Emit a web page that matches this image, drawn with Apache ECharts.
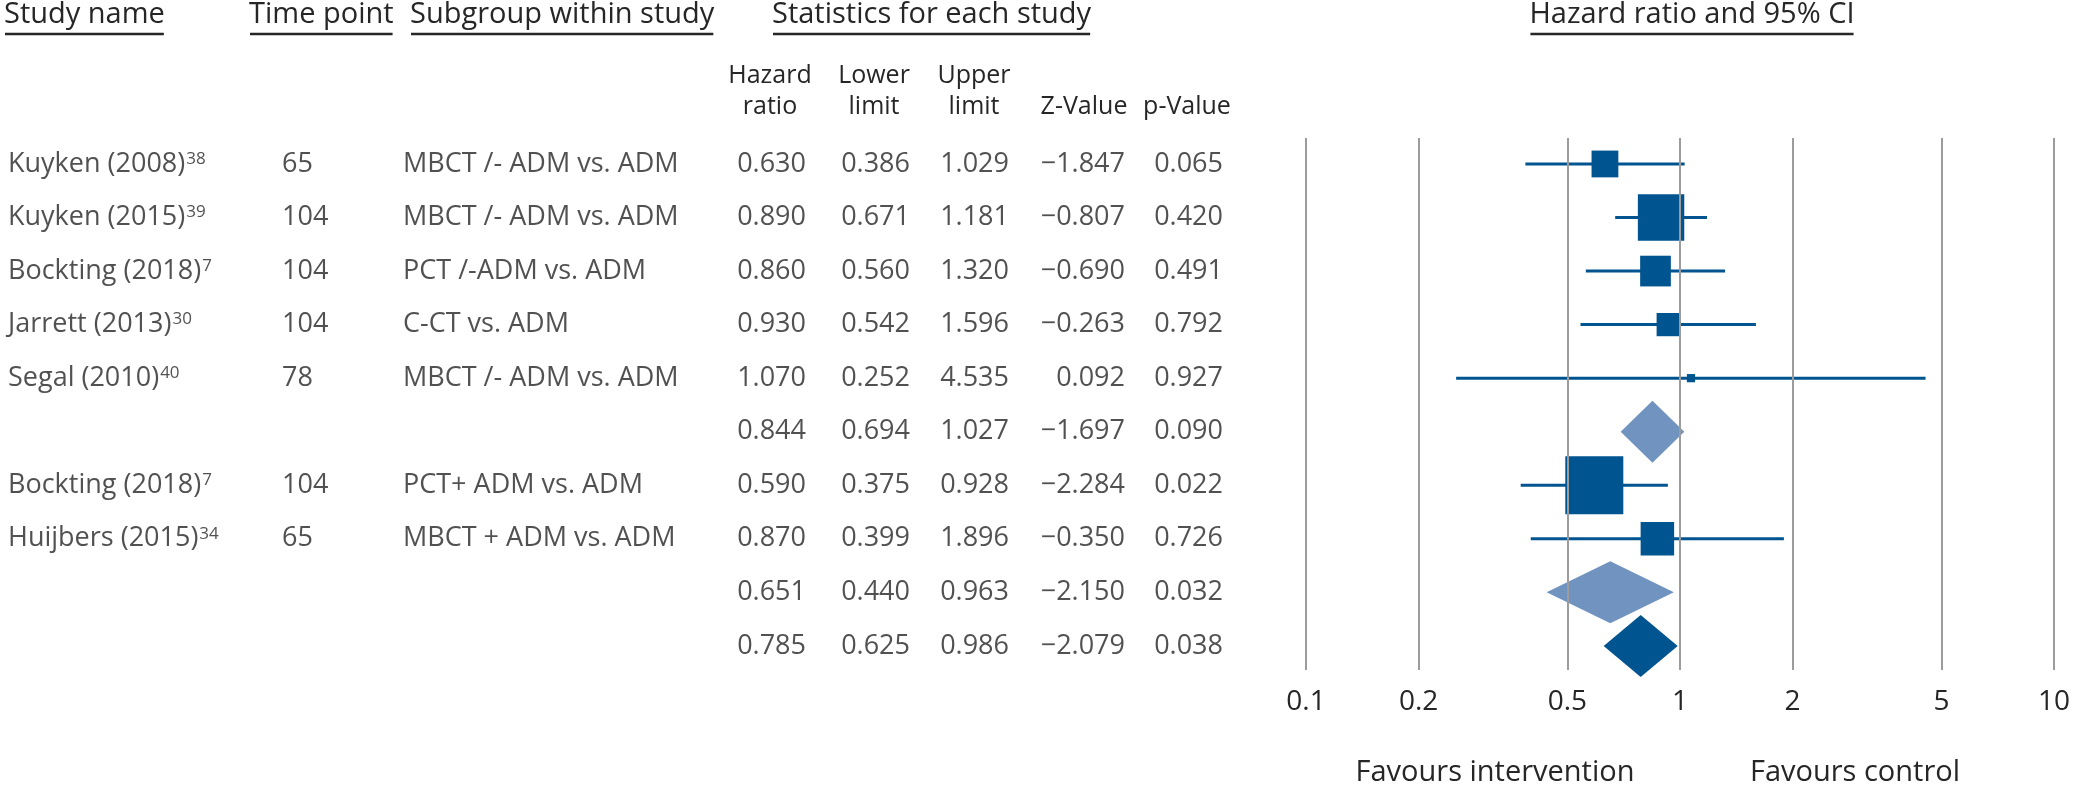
<!DOCTYPE html>
<html><head><meta charset="utf-8">
<script src="https://cdn.jsdelivr.net/npm/echarts@6/dist/echarts.min.js"></script>
<style>html,body{margin:0;padding:0;background:#fff}#c{width:2073px;height:792px}</style>
</head><body><div id="c"></div>
<script>
// ---------- data ----------
const studyNames = ['Kuyken (2008)', 'Kuyken (2015)', 'Bockting (2018)', 'Jarrett (2013)', 'Segal (2010)', '', 'Bockting (2018)', 'Huijbers (2015)', '', ''];
const refs = ['38', '39', '7', '30', '40', '', '7', '34', '', ''];
const timePoints = ['65', '104', '104', '104', '78', '', '104', '65', '', ''];
const subgroups = ['MBCT /- ADM vs. ADM', 'MBCT /- ADM vs. ADM', 'PCT /-ADM vs. ADM', 'C-CT vs. ADM', 'MBCT /- ADM vs. ADM', '', 'PCT+ ADM vs. ADM', 'MBCT + ADM vs. ADM', '', ''];
const hazardRatio = [0.630, 0.890, 0.860, 0.930, 1.070, 0.844, 0.590, 0.870, 0.651, 0.785];
const lowerLimit = [0.386, 0.671, 0.560, 0.542, 0.252, 0.694, 0.375, 0.399, 0.440, 0.625];
const upperLimit = [1.029, 1.181, 1.320, 1.596, 4.535, 1.027, 0.928, 1.896, 0.963, 0.986];
const zValue = [-1.847, -0.807, -0.690, -0.263, 0.092, -1.697, -2.284, -0.350, -2.150, -2.079];
const pValue = [0.065, 0.420, 0.491, 0.792, 0.927, 0.090, 0.022, 0.726, 0.032, 0.038];
const rowType = ['study', 'study', 'study', 'study', 'study', 'subtotal', 'study', 'study', 'subtotal', 'total'];
const relWeight = [16, 48, 21, 12, 1.5, null, 75, 25, null, null];
const tickValues = [0.1, 0.2, 0.5, 1, 2, 5, 10];
const tickLabels = ['0.1', '0.2', '0.5', '1', '2', '5', '10'];

// ---------- style ----------
const FONT = '"Open Sans", "Noto Sans", sans-serif';
const TEXT = '#262626';
const DARK = '#00548f';
const LIGHT = '#7193c0';
const GRIDC = '#9c9c9c';
const ROW_FS = 27;

const fmtNum = v => (v < 0 ? '\u2212' : '') + Math.abs(v).toFixed(3);

const rows = hazardRatio.map((_, i) => i);
const studyRows = rows.filter(i => rowType[i] === 'study');
const summaryRows = rows.filter(i => rowType[i] !== 'study');

const Y_MIN = -0.485, Y_MAX = 9.45;

function textSeries(colX, align, texts, rich) {
  return {
    type: 'scatter', xAxisIndex: 1, yAxisIndex: 1, silent: true,
    symbolSize: 1, itemStyle: { color: 'rgba(0,0,0,0)' },
    data: rows.filter(i => texts[i] !== '').map(i => [colX, i, texts[i]]),
    label: {
      show: true, position: 'inside', align: align, verticalAlign: 'middle',
      formatter: p => p.value[2],
      fontSize: ROW_FS, fontFamily: FONT, color: TEXT, rich: rich || {}
    },
    z: 5
  };
}

const nameTexts = rows.map(i => studyNames[i] ? '{n|' + studyNames[i] + '}{s|' + refs[i] + '}' : '');

// measure text width for underlines
const mctx = document.createElement('canvas').getContext('2d');
function textW(t, fs) { mctx.font = fs + 'px "Open Sans", "Noto Sans", sans-serif'; return mctx.measureText(t).width; }

const HDR_FS = 29, HDR_Y = 15, UL_Y = 34;
const headers = [
  { t: 'Study name', x: 4, align: 'left' },
  { t: 'Time point', x: 249, align: 'left' },
  { t: 'Subgroup within study', x: 410, align: 'left' },
  { t: 'Statistics for each study', x: 772, align: 'left' },
  { t: 'Hazard ratio and 95% CI', x: 1692, align: 'center' }
];
const SUB_FS = 25;
const subHeaders = [
  { l: ['Hazard', 'ratio'], x: 770 },
  { l: ['Lower', 'limit'], x: 874 },
  { l: ['Upper', 'limit'], x: 974 },
  { l: ['', 'Z-Value'], x: 1084 },
  { l: ['', 'p-Value'], x: 1187 }
];
const graphics = [];
headers.forEach(h => {
  graphics.push({ type: 'text', x: h.x, y: HDR_Y, style: { text: h.t, fontSize: HDR_FS, fontFamily: FONT, fill: TEXT, align: h.align, verticalAlign: 'middle' } });
  const w = textW(h.t, HDR_FS);
  const x0 = h.align === 'center' ? h.x - w / 2 : h.x;
  graphics.push({ type: 'line', shape: { x1: x0 + 1, y1: UL_Y, x2: x0 + w - 1, y2: UL_Y }, style: { stroke: TEXT, lineWidth: 2.5 } });
});
subHeaders.forEach(s => {
  s.l.forEach((t, k) => {
    if (!t) return;
    graphics.push({ type: 'text', x: s.x, y: k === 0 ? 76 : 107, style: { text: t, fontSize: SUB_FS, fontFamily: FONT, fill: TEXT, align: 'center', verticalAlign: 'middle' } });
  });
});
graphics.push({ type: 'text', x: 1495, y: 773, style: { text: 'Favours intervention', fontSize: 29, fontFamily: FONT, fill: TEXT, align: 'center', verticalAlign: 'middle' } });
graphics.push({ type: 'text', x: 1855, y: 773, style: { text: 'Favours control', fontSize: 29, fontFamily: FONT, fill: TEXT, align: 'center', verticalAlign: 'middle' } });

const SQ_K = 6.7;
const DIAMOND_H = 62;

const option = {
  backgroundColor: '#fff',
  animation: false,
  grid: [
    { left: 1306, width: 748, top: 138, height: 532 },
    { left: 0, width: 2073, top: 138, height: 532 }
  ],
  xAxis: [
    {
      type: 'log', logBase: 10, min: 0.1, max: 10, gridIndex: 0,
      axisLine: { show: false }, axisTick: { show: false, customValues: tickValues }, splitLine: { show: false },
      axisLabel: {
        customValues: tickValues, margin: 18, fontSize: 28, fontFamily: FONT, color: TEXT,
        formatter: v => { const k = tickValues.findIndex(t => Math.abs(t - v) / t < 1e-6); return k >= 0 ? tickLabels[k] : ''; }
      }
    },
    { type: 'value', min: 0, max: 2073, gridIndex: 1, show: false }
  ],
  yAxis: [
    { type: 'value', min: Y_MIN, max: Y_MAX, inverse: true, gridIndex: 0, show: false },
    { type: 'value', min: Y_MIN, max: Y_MAX, inverse: true, gridIndex: 1, show: false }
  ],
  graphic: graphics,
  series: [
    // grid lines
    {
      type: 'scatter', xAxisIndex: 0, yAxisIndex: 0, data: [], silent: true,
      markLine: {
        silent: true, symbol: 'none', label: { show: false },
        lineStyle: { color: GRIDC, width: 2, type: 'solid' },
        data: tickValues.map(v => ({ xAxis: v }))
      }
    },
    // whiskers
    {
      type: 'custom', xAxisIndex: 0, yAxisIndex: 0, silent: true, z: 3,
      data: studyRows.map(i => [lowerLimit[i], upperLimit[i], i]),
      encode: { x: [0, 1], y: 2 },
      renderItem: (params, api) => {
        const a = api.coord([api.value(0), api.value(2)]);
        const b = api.coord([api.value(1), api.value(2)]);
        return { type: 'line', shape: { x1: a[0], y1: a[1], x2: b[0], y2: b[1] }, style: { stroke: DARK, lineWidth: 3 } };
      }
    },
    // squares
    {
      type: 'scatter', xAxisIndex: 0, yAxisIndex: 0, silent: true, z: 4,
      symbol: 'rect',
      data: studyRows.map(i => [hazardRatio[i], i, relWeight[i]]),
      symbolSize: v => SQ_K * Math.sqrt(v[2]),
      itemStyle: { color: DARK, opacity: 1 }
    },
    // diamonds
    {
      type: 'custom', xAxisIndex: 0, yAxisIndex: 0, silent: true, z: 4,
      data: summaryRows.map(i => [lowerLimit[i], hazardRatio[i], upperLimit[i], i, rowType[i] === 'total' ? 1 : 0]),
      encode: { x: [0, 2], y: 3 },
      renderItem: (params, api) => {
        const r = api.value(3);
        const l = api.coord([api.value(0), r]);
        const m = api.coord([api.value(1), r]);
        const u = api.coord([api.value(2), r]);
        return {
          type: 'polygon',
          shape: { points: [[l[0], l[1]], [m[0], m[1] - DIAMOND_H / 2], [u[0], u[1]], [m[0], m[1] + DIAMOND_H / 2]] },
          style: { fill: api.value(4) === 1 ? DARK : LIGHT }
        };
      }
    },
    // table text
    textSeries(8, 'left', nameTexts, {
      n: { fontSize: ROW_FS, fontFamily: FONT, color: TEXT },
      s: { fontSize: 17, fontFamily: FONT, color: TEXT, verticalAlign: 'top', padding: [0, 0, 0, 1] }
    }),
    textSeries(282, 'left', timePoints),
    textSeries(403, 'left', subgroups),
    textSeries(806, 'right', hazardRatio.map(fmtNum)),
    textSeries(910, 'right', lowerLimit.map(fmtNum)),
    textSeries(1009, 'right', upperLimit.map(fmtNum)),
    textSeries(1125, 'right', zValue.map(fmtNum)),
    textSeries(1223, 'right', pValue.map(fmtNum))
  ]
};

const chart = echarts.init(document.getElementById('c'));
chart.setOption(option);
</script>
</body></html>
